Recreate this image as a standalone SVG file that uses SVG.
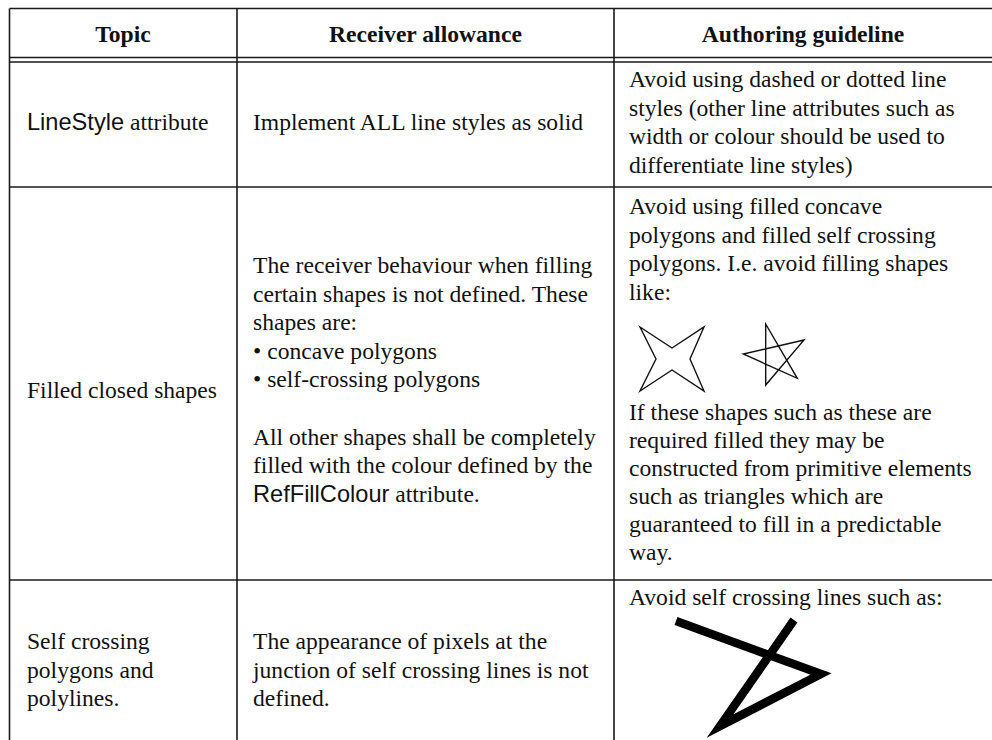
<svg xmlns="http://www.w3.org/2000/svg" width="992" height="740" viewBox="0 0 992 740">
  <style>
    .rule { stroke: #1a1a1a; stroke-width: 1.6; fill: none; }
    .hd { font-family: "Liberation Serif", "Times New Roman", serif; font-weight: bold; font-size: 23.6px; fill: #111; text-anchor: middle; }
    .tx { font-family: "Liberation Serif", "Times New Roman", serif; font-size: 23.6px; fill: #111; }
    .sn { font-family: "Liberation Sans", Arial, sans-serif; }
    .thin { stroke: #111; stroke-width: 1.4; fill: none; stroke-linejoin: miter; }
    .thick { stroke: #000; stroke-width: 8.5; fill: none; stroke-linejoin: miter; stroke-miterlimit: 10; stroke-linecap: butt; }
  </style>
  <rect width="992" height="740" fill="#ffffff"/>

  <!-- table rules -->
  <g id="grid">
    <line class="rule" x1="9.5" y1="8.5" x2="992" y2="8.5"/>
    <line class="rule" x1="9.5" y1="57.5" x2="992" y2="57.5"/>
    <line class="rule" x1="9.5" y1="62" x2="992" y2="62"/>
    <line class="rule" x1="9.5" y1="187" x2="992" y2="187"/>
    <line class="rule" x1="9.5" y1="580" x2="992" y2="580"/>
    <line class="rule" x1="9.5" y1="8.5" x2="9.5" y2="740"/>
    <line class="rule" x1="237" y1="8.5" x2="237" y2="740"/>
    <line class="rule" x1="614" y1="8.5" x2="614" y2="740"/>
  </g>

  <!-- header row -->
  <g id="header">
    <text class="hd" x="123" y="42">Topic</text>
    <text class="hd" x="425.5" y="42">Receiver allowance</text>
    <text class="hd" x="803" y="42">Authoring guideline</text>
  </g>

  <!-- row 1: line style -->
  <g id="row-linestyle">
    <text class="tx" x="27" y="130"><tspan class="sn">LineStyle</tspan> attribute</text>
    <text class="tx" x="253" y="130">Implement ALL line styles as solid</text>
    <text class="tx" x="629">
      <tspan x="629" y="87">Avoid using dashed or dotted line</tspan>
      <tspan x="629" y="115.6">styles (other line attributes such as</tspan>
      <tspan x="629" y="144.2">width or colour should be used to</tspan>
      <tspan x="629" y="172.8">differentiate line styles)</tspan>
    </text>
  </g>

  <!-- row 2: filled closed shapes -->
  <g id="row-filled">
    <text class="tx" x="27" y="398">Filled closed shapes</text>
    <text class="tx">
      <tspan x="253" y="273">The receiver behaviour when filling</tspan>
      <tspan x="253" y="301.6">certain shapes is not defined. These</tspan>
      <tspan x="253" y="330.2">shapes are:</tspan>
      <tspan x="253" y="358.8">• concave polygons</tspan>
      <tspan x="253" y="387.4">• self-crossing polygons</tspan>
      <tspan x="253" y="444.6">All other shapes shall be completely</tspan>
      <tspan x="253" y="473.2">filled with the colour defined by the</tspan>
      <tspan x="253" y="501.8"><tspan class="sn">RefFillColour</tspan> attribute.</tspan>
    </text>
    <text class="tx">
      <tspan x="629" y="214">Avoid using filled concave</tspan>
      <tspan x="629" y="242.6">polygons and filled self crossing</tspan>
      <tspan x="629" y="271.2">polygons. I.e. avoid filling shapes</tspan>
      <tspan x="629" y="299.8">like:</tspan>
      <tspan x="629" y="420">If these shapes such as these are</tspan>
      <tspan x="629" y="448">required filled they may be</tspan>
      <tspan x="629" y="476">constructed from primitive elements</tspan>
      <tspan x="629" y="504">such as triangles which are</tspan>
      <tspan x="629" y="532">guaranteed to fill in a predictable</tspan>
      <tspan x="629" y="560">way.</tspan>
    </text>
    <!-- concave four-point star -->
    <polygon class="thin" points="640,327 672,348 704,327 690,359 704,391 672,370 640,391 656,359"/>
    <!-- self-crossing pentagram -->
    <polygon class="thin" points="765.7,324 797.3,378.3 743.3,354 804,340 765.7,385"/>
  </g>

  <!-- row 3: self crossing polygons -->
  <g id="row-crossing">
    <text class="tx">
      <tspan x="27" y="649">Self crossing</tspan>
      <tspan x="27" y="677.6">polygons and</tspan>
      <tspan x="27" y="706.2">polylines.</tspan>
    </text>
    <text class="tx">
      <tspan x="253" y="649">The appearance of pixels at the</tspan>
      <tspan x="253" y="677.6">junction of self crossing lines is not</tspan>
      <tspan x="253" y="706.2">defined.</tspan>
    </text>
    <text class="tx" x="629" y="605">Avoid self crossing lines such as:</text>
    <polyline class="thick" points="676,621 821,674 720,726 794,620"/>
  </g>
</svg>
